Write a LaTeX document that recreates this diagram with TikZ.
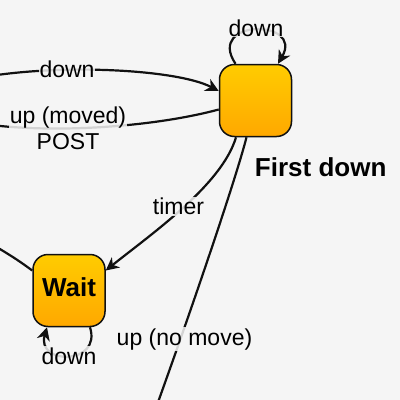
\documentclass[tikz,border=0pt]{standalone}
\usepackage{fontspec}
\setmainfont{Liberation Sans}
\usetikzlibrary{arrows.meta}
\definecolor{bg}{HTML}{F5F5F5}
\definecolor{ytop}{HTML}{FFCC00}
\definecolor{ybot}{HTML}{FFA800}
\definecolor{edgec}{HTML}{111111}
\begin{document}
\begin{tikzpicture}[x=1pt,y=-1pt,
  statebox/.style={draw=edgec, line width=1.5pt, rounded corners=15pt,
    minimum width=72pt, minimum height=72pt, inner sep=0pt,
    top color=ytop, bottom color=ybot, text depth=6pt,
    font=\fontsize{26}{30}\selectfont\bfseries},
  edgeline/.style={draw=edgec, line width=2.2pt,
    -{Stealth[length=13pt,width=13pt,inset=4pt]}},
  lbl/.style={fill=bg, fill opacity=0.85, text opacity=1, inner sep=1pt,
    font=\fontsize{23}{26}\selectfont, anchor=base, align=center},
  title/.style={font=\fontsize{26}{30}\selectfont\bfseries, anchor=base, inner sep=0pt}]
\useasboundingbox (0,0) rectangle (400,400);
\fill[bg] (0,0) rectangle (400,400);
\begin{scope}
\clip (0,0) rectangle (400,400);
\node[statebox] (fd) at (255.5,100.5) {};
\node[statebox] (wait) at (69,290.5) {Wait};
\coordinate (L1) at (-40,82);
\coordinate (L2) at (-40,120);
\coordinate (L3) at (-40,225);
\coordinate (B1) at (148,430);
\draw[edgeline] (L1) .. controls (40,62) and (175,68) .. ([yshift=9.5pt]fd.west);
\draw[edgeline] ([yshift=-9pt]fd.west) .. controls (150,128) and (40,135) .. (L2);
\draw[edgeline] ([yshift=20pt]wait.west) .. controls (15,258) .. (L3);
\draw[edgeline] ([xshift=-19.5pt]fd.south) .. controls (222,185) and (150,235) .. ([yshift=20pt]wait.east);
\draw[edgeline] ([xshift=-9pt]fd.south) .. controls (237,175) and (195,300) .. (B1);
\draw[edgeline] ([xshift=-20pt]fd.north) .. controls +(-30,-45) and +(26,-45) .. ([xshift=22.5pt]fd.north);
\draw[edgeline] ([xshift=21pt]wait.south) .. controls +(12,38) and +(-11,38) .. ([xshift=-22pt]wait.south);
\node[lbl] (l1) at (256,36) {down};
\node[lbl] (l2) at (67,77.5) {down};
\node[lbl] (l3) at (68,149) {up (moved)\\POST};
\node[lbl] (l4) at (178.5,214.3) {timer};
\node[lbl] (l5) at (184.5,345) {up (no move)};
\node[lbl] (l6) at (69,364) {down};
\node[title] (t1) at (320.7,176) {First down};
\end{scope}
\end{tikzpicture}
\end{document}
